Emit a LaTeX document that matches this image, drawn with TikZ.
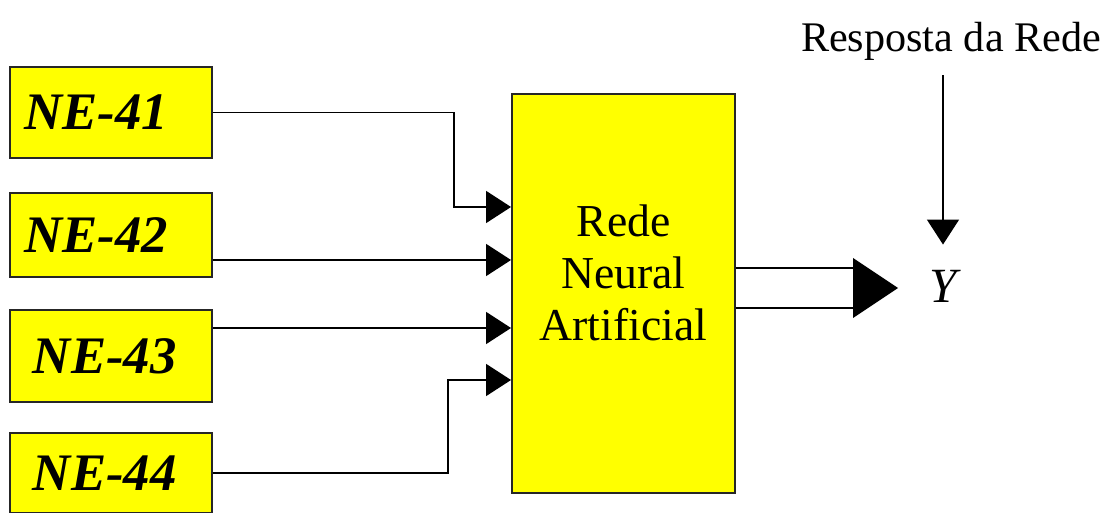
\documentclass[tikz,border=0pt]{standalone}
\usepackage{fontspec}
\setmainfont{Liberation Serif}
\usetikzlibrary{arrows.meta,positioning}

\definecolor{boxyellow}{RGB}{255,255,0}
\tikzset{
  nebox/.style={draw=black!85,line width=1.1pt,fill=boxyellow,minimum width=4.04cm,
    inner sep=0pt,font=\fontsize{30}{36}\selectfont\bfseries\itshape},
  inarrow/.style={line width=0.9pt,-{Triangle[length=0.5cm,width=0.64cm]}}
}

\begin{document}
\begin{tikzpicture}
\clip (0,0) rectangle (22.14,-10.26);

% input boxes
\node[nebox,minimum height=1.82cm] (ne41) at (2.22,-2.25) {NE-41\kern0.6cm};
\node[nebox,minimum height=1.68cm] (ne42) at (2.22,-4.70) {NE-42\kern0.6cm};
\node[nebox,minimum height=1.84cm] (ne43) at (2.22,-7.12) {NE-43\kern0.25cm};
\node[nebox,minimum height=1.60cm] (ne44) at (2.22,-9.46) {NE-44\kern0.25cm};

% network block
\node[draw=black!85,line width=1.1pt,fill=boxyellow,minimum width=4.46cm,minimum height=7.98cm] (rna) at (12.47,-5.87) {};
\node[align=center,font=\fontsize{26}{29.6}\selectfont] (rnatxt) at ([yshift=0.42cm]rna.center) {Rede\\Neural\\Artificial};

% entry points on the block
\coordinate (in1) at (rna.west |- 0,-4.14);
\coordinate (in2) at (rna.west |- 0,-5.20);
\coordinate (in3) at (rna.west |- 0,-6.56);
\coordinate (in4) at (rna.west |- 0,-7.60);

\draw[inarrow] (ne41.east) -| ([xshift=-1.14cm]in1) -- (in1);
\draw[inarrow] (in2 -| ne42.east) -- (in2);
\draw[inarrow] (in3 -| ne43.east) -- (in3);
\draw[inarrow] (ne44.east) -| ([xshift=-1.26cm]in4) -- (in4);

% output
\node[font=\fontsize{28}{32}\selectfont\itshape,inner sep=0pt] (Y) at (18.86,-5.72) {Y};
\coordinate (out) at (rna.east |- 0,-5.76);
\coordinate (outhead) at (17.06,-5.76);
\draw[line width=0.9pt] ([yshift=0.4cm]out) -- ([yshift=0.4cm]outhead);
\draw[line width=0.9pt] ([yshift=-0.4cm]out) -- ([yshift=-0.4cm]outhead);
\fill ([yshift=0.6cm]outhead) -- ([xshift=0.9cm]outhead) -- ([yshift=-0.6cm]outhead) -- cycle;

% response label
\node[font=\fontsize{24}{28}\selectfont,anchor=base] (resp) at (19.02,-1.04) {Resposta da Rede};
\draw[inarrow,shorten <=0.16cm,shorten >=0.5cm] (resp.south -| Y.north) -- (Y.north);
\end{tikzpicture}
\end{document}
